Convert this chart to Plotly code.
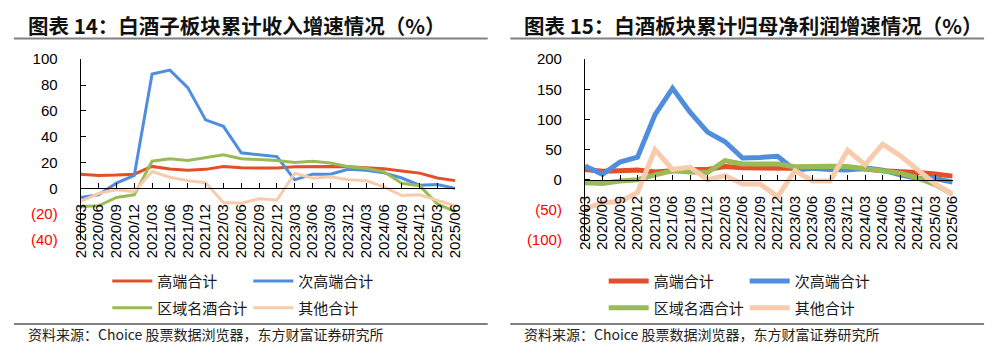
import plotly.graph_objects as go

W, H = 997, 354

quarters = ['2020/03', '2020/06', '2020/09', '2020/12', '2021/03', '2021/06', '2021/09', '2021/12',
            '2022/03', '2022/06', '2022/09', '2022/12', '2023/03', '2023/06', '2023/09', '2023/12',
            '2024/03', '2024/06', '2024/09', '2024/12', '2025/03', '2025/06']

series_names = ['高端合计', '次高端合计', '区域名酒合计', '其他合计']

# 图表14 累计收入增速 (%)
rev_high = [11, 10, 10.3, 11, 17, 15, 14, 14.7, 17, 16, 15.7, 15.7, 16.7, 17, 17, 16.7, 16, 15.2, 13.5, 11.8, 8, 6]
rev_subhigh = [-7, -5, 4, 10, 88.5, 91.5, 78, 53, 48, 27.5, 26, 24.6, 6.6, 11, 11, 14.7, 14, 12, 8, 2.5, 3, 0]
rev_regional = [-14, -13.5, -7, -5, 21, 23, 21.6, 24, 26, 23, 22.5, 21.6, 20, 21, 19.6, 16.7, 15.5, 12.8, 4, 2, -12, -18]
rev_other = [-10, -4, -1, -2.5, 13, 8.6, 6, 4.4, -11, -11.5, -8, -9, 11.8, 7.9, 9, 6.6, 6, 1.2, -5.6, -5, -9.3, -13.5]

# 图表15 累计归母净利润增速 (%)
np_high = [17, 14, 15, 16, 13, 16, 17, 17, 22, 20, 20, 20, 20, 19, 19, 18, 18, 15, 14, 12, 9.5, 6]
np_subhigh = [22.6, 9, 29.5, 37.4, 108, 151.6, 112, 79, 63, 36, 37, 39, 16, 19, 17, 16, 20, 16, 8, 2, 2, -4]
np_regional = [-5, -6, -2, 0, 8, 15, 13, 12, 31.6, 26, 26, 26, 21.6, 22.6, 22.6, 22, 19, 14, 11, 3, -8, -24]
np_other = [-48, -38, -36, -21, 50, 17, 21, 0, 7, -7, -7, -28, 15, -2, -2, 49, 25, 59, 40, 16, -7, -24]

y1_ticks = [-40, -20, 0, 20, 40, 60, 80, 100]
y2_ticks = [-100, -50, 0, 50, 100, 150, 200]

colors = ['#E2502A', '#4E8EDC', '#99BB55', '#F8CBAD']

CJK = 'Noto Sans CJK SC'
LAT = 'Liberation Sans'


def fmt(v):
    if v < 0:
        return '<span style="color:#FF0000">(%d)</span>' % (-v)
    return str(v)


def px(x):
    return x / W


def py(y):
    return 1 - y / H


fig = go.Figure()

left = [rev_high, rev_subhigh, rev_regional, rev_other]
right = [np_high, np_subhigh, np_regional, np_other]
legs_left = ['legend', 'legend', 'legend2', 'legend2']
legs_right = ['legend3', 'legend3', 'legend4', 'legend4']

for name, vals, c, lg in zip(series_names, left, colors, legs_left):
    fig.add_trace(go.Scatter(x=quarters, y=vals, name=name, mode='lines',
                             line=dict(color=c, width=3), xaxis='x', yaxis='y', legend=lg))
for name, vals, c, lg in zip(series_names, right, colors, legs_right):
    fig.add_trace(go.Scatter(x=quarters, y=vals, name=name, mode='lines',
                             line=dict(color=c, width=5), xaxis='x2', yaxis='y2', legend=lg))

ydom = [py(242.7), py(52.7)]

xcommon = dict(type='category', range=[0, len(quarters) - 1], anchor='free',
               tickmode='linear', tick0=0, dtick=1,
               showline=True, linecolor='#000000', linewidth=1.2,
               ticks='inside', ticklen=5, tickcolor='#000000', tickwidth=1.2,
               tickangle=-90, tickfont=dict(family=LAT, size=15, color='#000000'),
               showgrid=False, zeroline=False, ticklabelstandoff=9)
ycommon = dict(domain=ydom, showline=True, linecolor='#000000', linewidth=1.2,
               ticks='inside', ticklen=5, tickcolor='#000000', tickwidth=1.2,
               tickfont=dict(family=LAT, size=15, color='#000000'),
               showgrid=False, zeroline=False, ticklabelstandoff=19)

fig.update_layout(
    width=W, height=H, margin=dict(l=0, r=0, t=0, b=0),
    paper_bgcolor='white', plot_bgcolor='white',
    xaxis=dict(domain=[px(73), px(454)], position=py(188.0), **xcommon),
    yaxis=dict(anchor='x', range=[-40, 100], tickvals=y1_ticks,
               ticktext=[fmt(v) for v in y1_ticks], **ycommon),
    xaxis2=dict(domain=[px(586), px(960)], position=py(179.3), **xcommon),
    yaxis2=dict(anchor='x2', range=[-100, 200], tickvals=y2_ticks,
                ticktext=[fmt(v) for v in y2_ticks], **ycommon),
)

legfont = dict(family=CJK, size=15, color='#1a1a1a')
legbase = dict(orientation='h', xanchor='left', yanchor='middle', font=legfont,
               itemwidth=40, entrywidth=86, bgcolor='rgba(0,0,0,0)', borderwidth=0,
               traceorder='normal')
fig.update_layout(
    legend=dict(x=px(100), y=py(286), **legbase),
    legend2=dict(x=px(100), y=py(314), **legbase),
    legend3=dict(x=px(605), y=py(286), **legbase),
    legend4=dict(x=px(605), y=py(314), **legbase),
)

# titles
fig.add_annotation(text='图表 14：白酒子板块累计收入增速情况（%）', x=px(17), y=py(17),
                   xref='paper', yref='paper', xanchor='left', yanchor='middle', showarrow=False,
                   font=dict(family=CJK, size=20.5, color='#111111', weight=700))
fig.add_annotation(text='图表 15：白酒板块累计归母净利润增速情况（%）', x=px(522), y=py(17),
                   xref='paper', yref='paper', xanchor='left', yanchor='middle', showarrow=False,
                   font=dict(family=CJK, size=20.5, color='#111111', weight=700))

# sources
src = '资料来源：Choice 股票数据浏览器，东方财富证券研究所'
for x0 in (17, 522):
    fig.add_annotation(text=src, x=px(x0), y=py(341), xref='paper', yref='paper',
                       xanchor='left', yanchor='middle', showarrow=False,
                       font=dict(family=CJK, size=14, color='#222222'))

# rules
for (a, b) in ((5, 487), (510, 992)):
    for yy in (31, 331):
        fig.add_shape(type='line', xref='paper', yref='paper', x0=px(a), x1=px(b),
                      y0=py(yy), y1=py(yy), line=dict(color='#808080', width=2))

fig.write_html('out.html')
